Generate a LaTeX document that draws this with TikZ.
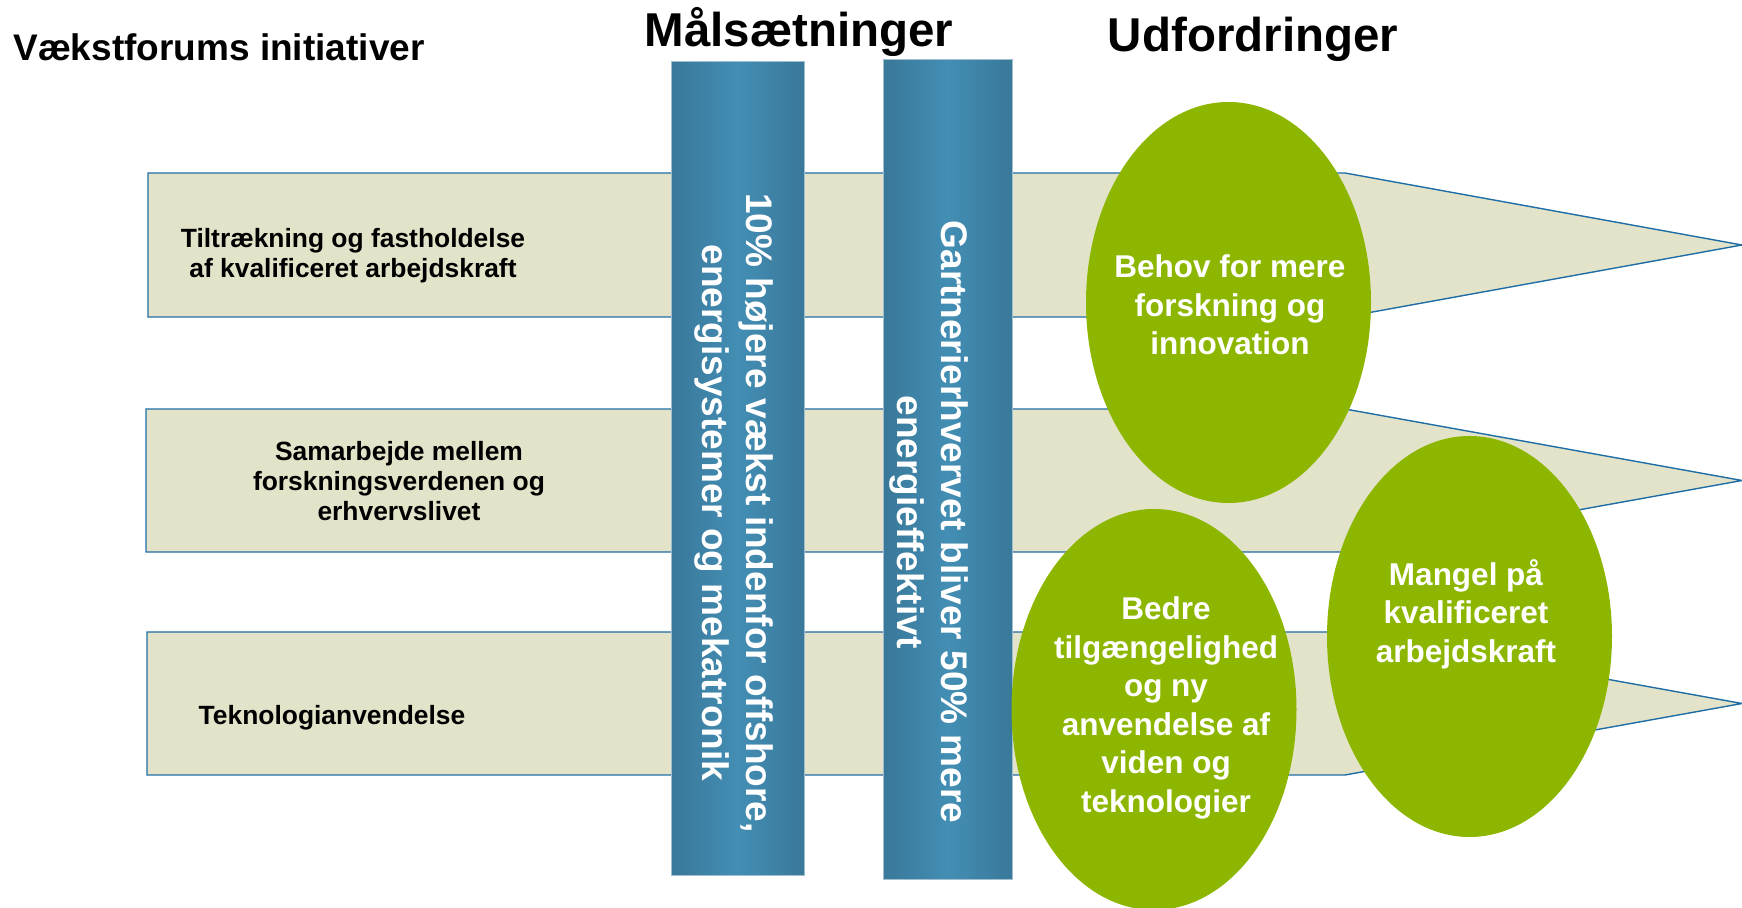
\documentclass[tikz,border=0pt]{standalone}
\usepackage{fontspec}
\setmainfont{Liberation Sans}
\usetikzlibrary{shapes,positioning}
\definecolor{band-bg}{RGB}{227,227,202}
\definecolor{band-ln}{RGB}{31,109,165}
\definecolor{goal-dk}{RGB}{57,120,153}
\definecolor{goal-lt}{RGB}{67,142,180}
\definecolor{goal-ln}{RGB}{160,190,208}
\definecolor{chal-gr}{RGB}{141,182,0}
\tikzstyle{a}=[anchor=north west]
\tikzstyle{band}=[draw=band-ln,fill=band-bg,line width=0.7pt]
\tikzstyle{bandtxt}=[align=center,inner sep=0pt,font=\bfseries\fontsize{13.2}{15.1}\selectfont]
\tikzstyle{goal}=[a,draw=goal-ln,line width=0.5pt,left color=goal-dk,right color=goal-dk,middle color=goal-lt,inner sep=0pt]
\tikzstyle{goaltxt}=[rotate=-90,align=center,text=white,inner sep=0pt,font=\bfseries\fontsize{18.5}{21.8}\selectfont]
\tikzstyle{chal}=[ellipse,fill=chal-gr,inner sep=0pt,minimum width=142.5pt,minimum height=200.5pt]
\tikzstyle{chaltxt}=[align=center,text=white,inner sep=0pt,font=\bfseries\fontsize{15.75}{19.25}\selectfont]
\tikzstyle{head}=[inner sep=0pt,anchor=base,font=\bfseries\fontsize{23.75}{28}\selectfont]

\begin{document}
\begin{tikzpicture}[x=0.5pt,y=-0.5pt]
  \useasboundingbox (0,0) rectangle (1742,908);

  % Headings
  \node [head,anchor=base west,font=\bfseries\fontsize{18.5}{22}\selectfont] (hini) at (13,61) {Vækstforums initiativer};
  \node [head] (hgoal) at (799,47) {Målsætninger};
  \node [head] (hchal) at (1253,52) {Udfordringer};

  % Initiatives
  \foreach \l/\t/\b in {148/173/317,146/409/552,147/632/775} {
    \draw[band] (\l,\t) -- (1345,\t) -- (1742,{(\t+\b)/2}) -- (1345,\b) -- (\l,\b) -- cycle;
  }

  \node [bandtxt] (ini1) at (353,256) {Tiltrækning og fastholdelse\\af kvalificeret arbejdskraft};
  \node [bandtxt] (ini2) at (399,481) {Samarbejde mellem\\forskningsverdenen og\\erhvervslivet};
  \node [bandtxt] (ini3) at (332,718) {Teknologianvendelse};

  % Goals
  \node [goal,minimum width=66.5pt,minimum height=407pt] (goal1) at (671,61) {};
  \node [goal,minimum width=64.5pt,minimum height=410pt] (goal2) at (883,59) {};

  \node [goaltxt] (goal1txt) at (734,513) {10\% højere vækst indenfor offshore,\\energisystemer og mekatronik};
  \node [goaltxt] (goal2txt) at (929,522) {Gartnerierhvervet bliver 50\% mere\\energieffektivt};

  % Challenges
  \node [chal] (chal1) at (1228.5,302.5) {};
  \node [chal] (chal2) at (1469.5,636.5) {};
  \node [chal] (chal3) at (1154,709.5) {};

  \node [chaltxt] (chal1txt) at (1230,305) {Behov for mere\\forskning og\\innovation};
  \node [chaltxt] (chal2txt) at (1466,614) {Mangel på\\kvalificeret\\arbejdskraft};
  \node [chaltxt] (chal3txt) at (1166,708) {Bedre\\tilgængelighed\\og ny\\anvendelse af\\viden og\\teknologier};
\end{tikzpicture}
\end{document}
